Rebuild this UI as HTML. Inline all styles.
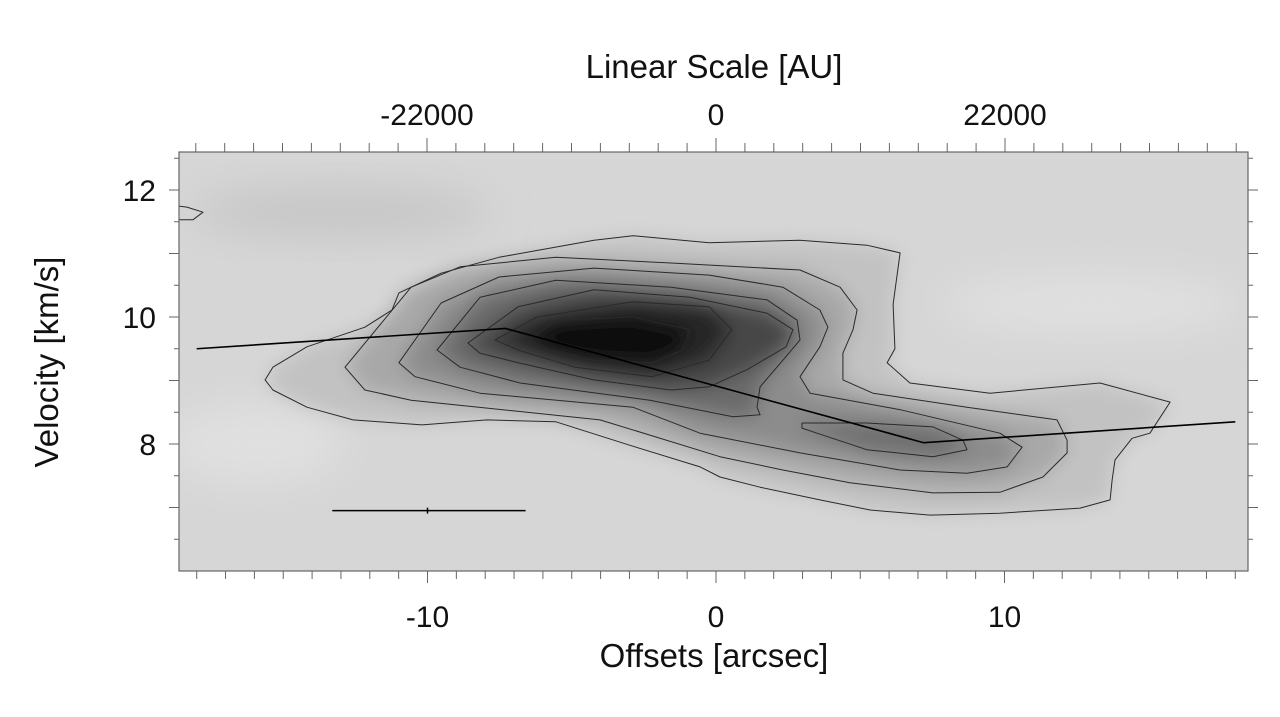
<!DOCTYPE html>
<html><head><meta charset="utf-8"><style>
html,body{margin:0;padding:0;background:#fff;width:1280px;height:717px;overflow:hidden}
text{font-family:"Liberation Sans",sans-serif;fill:#111}
</style></head><body>
<svg id="chart" width="1280" height="717" xmlns="http://www.w3.org/2000/svg">
<defs>
<clipPath id="clip"><rect x="179" y="152" width="1069" height="419"/></clipPath>
<filter id="blur" x="-20%" y="-20%" width="140%" height="140%"><feGaussianBlur stdDeviation="9"/></filter>
<filter id="blurbg" x="-50%" y="-50%" width="200%" height="200%"><feGaussianBlur stdDeviation="20"/></filter>
</defs>
<g id="plot" clip-path="url(#clip)"></g>
<g id="axes"></g>
<text x="714" y="78" font-size="33" text-anchor="middle">Linear Scale [AU]</text>
<text x="714" y="667" font-size="33" text-anchor="middle">Offsets [arcsec]</text>
<text transform="translate(58,362) rotate(-90)" font-size="33" text-anchor="middle">Velocity [km/s]</text>
</svg>
<script>
const xTicks=[-10,0,10];
const topTicks=[-22000,0,22000];
const yTicks=[8,10,12];
const pathX=[-18,-7.3,7.2,18];
const pathV=[9.5,9.82,8.02,8.35];
const barX=[-13.3,-6.6];
const barV=[6.95];
const c1X=[-15.63,-15.36,-14.18,-12.17,-11.23,-10.99,-9.53,-7.52,-4.23,-2.88,-0.24,2.9,5.23,6.38,6.14,6.2,5.93,6.72,9.5,13.31,15.74,15.04,14.42,13.83,13.73,13.66,12.62,9.84,7.42,5.34,3.6,1.53,0.14,-0.55,-2.98,-5.55,-7.94,-10.19,-12.58,-14.18,-15.36];
const c1V=[9.01,9.21,9.53,9.84,10.11,10.38,10.69,10.94,11.21,11.28,11.17,11.21,11.13,11.01,10.2,9.5,9.28,8.96,8.8,8.96,8.66,8.17,8.09,7.75,7.43,7.12,6.99,6.91,6.88,6.96,7.12,7.32,7.48,7.64,7.98,8.35,8.38,8.3,8.38,8.58,8.85];
const c2X=[-12.86,-10.57,-8.87,-5.55,-1.56,2.91,4.3,4.89,4.75,4.4,4.4,5.44,8.7,11.82,12.17,12.17,11.33,9.84,7.52,4.64,2.32,0.14,-2.29,-4.02,-10.57,-12.17];
const c2V=[9.21,10.47,10.79,10.94,10.85,10.74,10.47,10.11,9.8,9.43,9.01,8.8,8.58,8.38,8.06,7.86,7.48,7.24,7.23,7.39,7.59,7.8,8.14,8.38,8.69,8.85];
const c3X=[-10.99,-9.53,-7.52,-4.23,-0.24,2.32,3.6,3.88,3.6,2.91,3.26,6.38,9.84,10.61,10.09,8.7,6.38,2.91,-0.55,-2.88,-8.18,-10.43];
const c3V=[9.28,10.22,10.63,10.77,10.66,10.47,10.11,9.84,9.53,9.06,8.8,8.54,8.17,7.95,7.64,7.54,7.59,7.86,8.17,8.58,8.8,9.06];
const c4X=[-9.67,-8.18,-5.55,-1.56,1.77,2.81,2.91,2.32,1.53,1.42,1.53,0.59,-2.29,-6.79,-8.87];
const c4V=[9.48,10.31,10.58,10.47,10.27,9.95,9.64,9.32,8.9,8.58,8.46,8.43,8.69,8.96,9.21];
const c5X=[-8.6,-6.86,-4.23,-0.9,1.77,2.67,2.43,1.07,-0.24,-1.56,-4.23,-6.86,-8.18];
const c5V=[9.59,10.16,10.43,10.31,10.06,9.8,9.53,9.17,8.9,8.85,9.01,9.28,9.43];
const c6X=[-7.66,-6.2,-2.88,-0.24,0.55,-0.24,-2.22,-4.89,-6.86];
const c6V=[9.64,10.0,10.24,10.16,9.8,9.32,9.06,9.21,9.48];
const c7X=[-6.48,-5.55,-2.88,-0.9,-1.18,-2.22,-4.23,-5.82];
const c7V=[9.64,9.95,10.0,9.8,9.48,9.28,9.32,9.48];
const csX=[2.98,2.98,3.5,5.23,7.52,8.7,8.56,7.52,5.23];
const csV=[8.33,8.25,8.17,7.91,7.8,7.91,8.06,8.27,8.33];
const ctX=[-18.9,-18.34,-17.78,-18.13,-18.9];
const ctV=[11.76,11.73,11.65,11.53,11.53];
const x0=179,x1=1248,y0=152,y1=571;
const X=a=>716+a*28.85;
const Y=v=>444-(v-8)*63.5;
const AU=u=>716+u/22000*289;
const NS='http://www.w3.org/2000/svg';
function mk(t,a,p){const e=document.createElementNS(NS,t);for(const k in a)e.setAttribute(k,a[k]);p.appendChild(e);return e;}
function pd(xs,vs){let d='';xs.forEach((x,i)=>d+=(i?'L':'M')+X(x).toFixed(1)+','+Y(vs[i]).toFixed(1));return d+'Z';}
const plot=document.getElementById('plot'),axes=document.getElementById('axes');
const bg=mk('rect',{x:x0,y:y0,width:x1-x0,height:y1-y0,fill:'#d6d6d6'},plot);


mk('ellipse',{cx:X(-13),cy:Y(11.65),rx:150,ry:25,fill:'#c6c6c6',filter:'url(#blurbg)'},plot);
mk('ellipse',{cx:X(13),cy:Y(10.2),rx:150,ry:30,fill:'#e0e0e0',filter:'url(#blurbg)'},plot);
mk('ellipse',{cx:X(-16),cy:Y(8),rx:90,ry:40,fill:'#e0e0e0',filter:'url(#blurbg)'},plot);
const levels=[[c1X,c1V,'#c2c2c2'],[c2X,c2V,'#a8a8a8'],[c3X,c3V,'#8c8c8c'],[csX,csV,'#6e6e6e'],[c4X,c4V,'#6a6a6a'],[c5X,c5V,'#474747'],[c6X,c6V,'#272727'],[c7X,c7V,'#0c0c0c']];
const shade=mk('g',{filter:'url(#blur)'},plot);
levels.forEach(l=>mk('path',{d:pd(l[0],l[1]),fill:l[2]},shade));
const cg=mk('g',{fill:'none',stroke:'#2a2a2a','stroke-width':1,'stroke-linejoin':'round'},plot);
levels.concat([[ctX,ctV]]).forEach(l=>{const e=mk('path',{d:pd(l[0],l[1])},cg);

});
let lp='';pathX.forEach((x,i)=>lp+=(i?'L':'M')+X(x)+','+Y(pathV[i]));
const ln=mk('path',{d:lp,fill:'none',stroke:'#000','stroke-width':1.6},plot);


const sb=mk('path',{d:`M${X(barX[0])},${Y(barV[0])}L${X(barX[1])},${Y(barV[0])}M${X(-10)},${Y(barV[0])-3}L${X(-10)},${Y(barV[0])+3}`,stroke:'#000','stroke-width':1.5,fill:'none'},plot);


const fr=mk('rect',{x:x0,y:y0,width:x1-x0,height:y1-y0,fill:'none',stroke:'#666','stroke-width':1.2},axes);


for(let a=-18;a<=18;a++){const x=X(a);const big=a%10==0;
mk('line',{x1:x,x2:x,y1:y1,y2:y1+(big?12:8),stroke:'#666'},axes);}
for(let u=-66000;u<=66000;u+=2200){const x=AU(u);if(x<x0||x>x1)continue;const big=u%22000==0;
mk('line',{x1:x,x2:x,y1:y0,y2:y0-(big?14:9),stroke:'#666'},axes);}
for(let v=6.5;v<=12.5;v+=0.5){const y=Y(v);const big=v%1==0;
mk('line',{x1:x0,x2:x0-(big?10:5),y1:y,y2:y,stroke:'#666'},axes);
mk('line',{x1:x1,x2:x1+(big?10:5),y1:y,y2:y,stroke:'#666'},axes);}
xTicks.forEach(t=>{const e=mk('text',{x:X(t),y:627,'font-size':30,'text-anchor':'middle'},axes);e.textContent=t;

});
topTicks.forEach(t=>{const e=mk('text',{x:AU(t),y:125,'font-size':30,'text-anchor':'middle'},axes);e.textContent=t;

});
yTicks.forEach(t=>{const e=mk('text',{x:156,y:Y(t)+11,'font-size':30,'text-anchor':'end'},axes);e.textContent=t;

});
</script>
</body></html>
